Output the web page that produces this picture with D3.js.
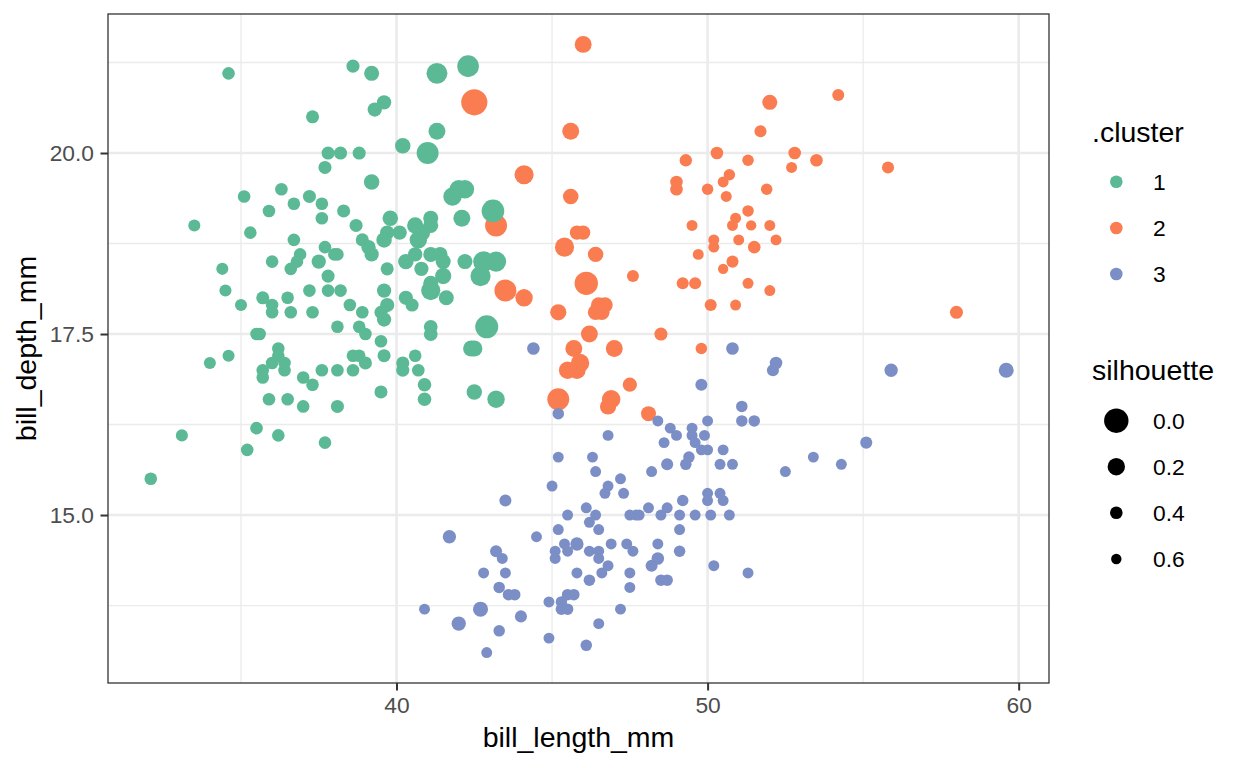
<!DOCTYPE html>
<html>
<head>
<meta charset="utf-8">
<script src="https://cdn.jsdelivr.net/npm/d3@7"></script>
<style>
  html, body { margin: 0; padding: 0; background: #ffffff; }
  svg { display: block; font-family: "Liberation Sans", Arial, Helvetica, sans-serif; }
</style>
</head>
<body>
<svg id="chart" width="1248" height="768"></svg>
<script>
// ---------------- DATA ----------------
const clusterLabels = ["1", "2", "3"];
const clusterColors = ["#5BBA95", "#FA7D52", "#7B8FC6"];
const sizeBreaks = [0.0, 0.2, 0.4, 0.6];
const xTicks = [40, 50, 60];
const xMinorTicks = [35, 45, 55];
const yTicks = [15, 17.5, 20];
const yMinorTicks = [13.75, 16.25, 18.75, 21.25];
const xTitle = "bill_length_mm";
const yTitle = "bill_depth_mm";
const colorTitle = ".cluster";
const sizeTitle = "silhouette";

// [bill_length_mm, bill_depth_mm, silhouette]
const cluster1 = [
  [34.6,21.1,0.4],[38.6,21.2,0.38],[39.2,21.1,0.3],[39.6,20.7,0.33],[39.3,20.6,0.33],
  [37.3,20.5,0.38],[40.2,20.1,0.28],[37.8,20.0,0.38],[38.2,20.0,0.38],[38.8,20.0,0.38],
  [37.7,19.8,0.38],[39.2,19.6,0.28],[36.3,19.5,0.4],[35.1,19.4,0.4],[37.2,19.4,0.38],
  [36.7,19.3,0.4],[37.6,19.3,0.4],[35.9,19.2,0.4],[38.3,19.2,0.38],[37.6,19.1,0.4],
  [39.8,19.1,0.28],[33.5,19.0,0.45],[38.7,19.0,0.38],[35.3,18.9,0.4],[40.1,18.9,0.33],
  [39.7,18.9,0.33],[36.7,18.8,0.4],[38.9,18.8,0.38],[39.6,18.8,0.28],[40.6,19.0,0.25],
  [37.7,18.7,0.4],[36.9,18.6,0.4],[38.0,18.6,0.4],[38.1,18.6,0.4],[39.1,18.7,0.33],
  [39.2,18.6,0.33],[36.0,18.5,0.4],[36.8,18.5,0.4],[37.5,18.5,0.33],[36.6,18.4,0.4],
  [34.4,18.4,0.45],[39.7,18.4,0.38],[40.3,18.5,0.28],[40.6,18.6,0.33],[37.8,18.3,0.38],
  [34.5,18.1,0.45],[37.2,18.1,0.4],[37.8,18.1,0.4],[38.2,18.1,0.4],[39.6,18.1,0.33],
  [35.0,17.9,0.45],[35.7,18.0,0.38],[36.0,17.9,0.4],[36.0,17.8,0.4],[36.5,18.0,0.4],
  [36.6,17.8,0.4],[37.3,17.8,0.4],[38.5,17.9,0.4],[38.9,17.8,0.4],[39.7,17.9,0.33],
  [39.5,17.8,0.38],[39.6,17.7,0.33],[40.3,18.0,0.33],[40.5,17.9,0.38],[38.1,17.6,0.4],
  [38.8,17.6,0.4],[39.0,17.5,0.4],[35.5,17.5,0.4],[35.6,17.5,0.4],[39.5,17.4,0.4],
  [34.0,17.1,0.45],[34.6,17.2,0.45],[36.2,17.3,0.4],[36.2,17.2,0.4],[36.0,17.1,0.4],
  [36.4,17.1,0.4],[35.7,17.0,0.4],[36.4,17.0,0.4],[35.7,16.9,0.4],[37.0,16.9,0.4],
  [37.3,16.8,0.4],[37.6,17.0,0.4],[38.1,17.0,0.4],[38.6,17.2,0.4],[38.8,17.2,0.4],
  [38.6,17.0,0.4],[39.0,17.1,0.38],[39.6,17.2,0.38],[40.2,17.1,0.38],[40.2,17.0,0.38],
  [40.6,17.2,0.4],[40.7,17.0,0.4],[39.5,16.7,0.38],[35.9,16.6,0.4],[36.5,16.6,0.4],
  [37.0,16.5,0.4],[38.1,16.5,0.38],[35.5,16.2,0.4],[36.2,16.1,0.4],[37.7,16.0,0.4],
  [33.1,16.1,0.45],[35.2,15.9,0.4],[32.1,15.5,0.4],
  [41.3,21.1,0.1],[42.3,21.2,0.08],[41.3,20.3,0.22],[41.0,20.0,0.07],[41.8,19.4,0.17],
  [42.0,19.5,0.17],[42.2,19.5,0.17],[43.1,19.2,0.05],[42.1,19.1,0.22],[41.1,19.1,0.3],
  [41.1,19.0,0.3],[40.8,18.9,0.2],[40.7,18.8,0.2],[41.1,18.6,0.3],[41.4,18.6,0.3],
  [41.5,18.5,0.3],[40.8,18.4,0.33],[41.5,18.3,0.25],[41.1,18.2,0.3],[41.1,18.1,0.15],
  [41.6,18.0,0.3],[42.2,18.5,0.3],[42.8,18.5,0.1],[43.2,18.5,0.12],[42.7,18.3,0.12],
  [41.1,17.6,0.35],[41.1,17.5,0.35],[42.9,17.6,0.04],[42.4,17.3,0.25],[42.5,17.3,0.25],
  [40.9,16.8,0.36],[40.9,16.6,0.36],[42.5,16.7,0.28],[43.2,16.6,0.2]
];
const cluster2 = [
  [42.5,20.7,-0.05],[46.0,21.5,0.22],[45.6,20.3,0.22],[44.1,19.7,0.15],[45.6,19.4,0.28],
  [49.3,19.9,0.42],[50.3,20.0,0.4],[49.0,19.6,0.4],[49.0,19.5,0.4],[50.0,19.5,0.5],
  [50.5,19.6,0.55],[50.6,19.4,0.55],[49.5,19.0,0.55],[50.2,18.8,0.55],[50.2,18.7,0.55],
  [43.2,19.0,0.07],[45.8,18.9,0.33],[46.0,18.9,0.33],[45.4,18.7,0.15],[43.5,18.1,0.07],
  [44.1,18.0,0.2],[46.4,18.6,0.28],[46.1,18.2,0.03],[47.6,18.3,0.45],[49.2,18.2,0.45],
  [49.6,18.2,0.45],[49.7,18.6,0.55],[50.5,18.4,0.6],[50.1,17.9,0.45],[46.5,17.9,0.28],
  [46.7,17.9,0.28],[46.4,17.8,0.28],[46.6,17.8,0.28],[45.2,17.8,0.25],[46.2,17.5,0.22],
  [48.5,17.5,0.38],[45.7,17.3,0.22],[47.0,17.3,0.22],[49.8,17.3,0.5],[45.9,17.1,0.17],
  [45.5,17.0,0.2],[45.8,17.0,0.2],[47.5,16.8,0.33],[45.2,16.6,0.07],[46.9,16.6,0.17],
  [46.8,16.5,0.25],[48.1,16.4,0.3],[54.2,20.8,0.45],[52.0,20.7,0.3],[51.7,20.3,0.45],
  [51.3,19.9,0.5],[52.8,20.0,0.4],[53.5,19.9,0.4],[52.7,19.8,0.55],[55.8,19.8,0.45],
  [50.7,19.7,0.5],[51.9,19.5,0.5],[51.3,19.2,0.5],[50.9,19.1,0.55],[50.8,19.0,0.55],
  [51.4,19.0,0.6],[52.0,19.0,0.55],[51.0,18.8,0.55],[51.5,18.7,0.4],[52.2,18.8,0.55],
  [50.8,18.5,0.45],[51.3,18.2,0.55],[52.0,18.1,0.55],[50.9,17.9,0.55],[58.0,17.8,0.38]
];
const cluster3 = [
  [44.4,17.3,0.4],[49.8,16.8,0.45],[45.2,16.4,0.5],[48.4,16.3,0.55],[48.8,16.2,0.55],
  [49.0,16.1,0.55],[49.5,16.2,0.55],[49.5,16.1,0.55],[50.0,16.3,0.55],[49.9,16.1,0.55],
  [46.8,16.1,0.55],[48.6,16.0,0.55],[49.6,16.0,0.55],[49.8,15.9,0.55],[50.0,15.9,0.55],
  [50.5,15.9,0.55],[49.4,15.8,0.5],[45.2,15.8,0.55],[46.3,15.8,0.55],[48.7,15.7,0.45],
  [49.3,15.7,0.5],[50.4,15.7,0.55],[50.8,15.7,0.55],[46.4,15.6,0.55],[47.2,15.5,0.55],
  [48.2,15.6,0.55],[45.0,15.4,0.55],[46.8,15.4,0.55],[46.7,15.3,0.55],[47.3,15.3,0.55],
  [43.5,15.2,0.45],[46.1,15.1,0.55],[46.4,15.0,0.55],[45.5,15.0,0.55],[47.5,15.0,0.55],
  [47.7,15.0,0.55],[47.8,15.0,0.55],[48.1,15.1,0.55],[48.7,15.1,0.55],[48.5,15.0,0.55],
  [49.1,15.0,0.55],[49.2,15.2,0.5],[49.6,15.0,0.55],[50.0,15.3,0.55],[50.0,15.2,0.55],
  [50.1,15.0,0.55],[50.4,15.3,0.55],[50.5,15.2,0.55],[50.7,15.0,0.55],[46.2,14.9,0.55],
  [45.2,14.8,0.55],[46.5,14.8,0.55],[49.1,14.8,0.55],[41.7,14.7,0.37],[44.5,14.7,0.55],
  [45.4,14.6,0.55],[45.8,14.6,0.37],[45.1,14.5,0.55],[45.5,14.5,0.55],[45.1,14.4,0.55],
  [46.2,14.5,0.55],[46.5,14.5,0.55],[46.5,14.4,0.55],[46.9,14.6,0.55],[47.4,14.6,0.55],
  [47.6,14.5,0.55],[48.4,14.6,0.55],[48.4,14.4,0.4],[48.2,14.3,0.45],[49.1,14.5,0.5],
  [50.2,14.3,0.55],[43.2,14.5,0.45],[43.4,14.4,0.55],[42.8,14.2,0.55],[43.5,14.2,0.55],
  [45.8,14.2,0.55],[46.6,14.2,0.55],[46.8,14.3,0.55],[47.5,14.2,0.55],[43.3,14.0,0.5],
  [43.6,13.9,0.5],[43.8,13.9,0.5],[46.2,14.1,0.5],[47.5,14.0,0.55],[48.5,14.1,0.5],
  [48.7,14.1,0.5],[40.9,13.7,0.55],[42.7,13.7,0.3],[44.9,13.8,0.55],[45.3,13.8,0.5],
  [45.5,13.9,0.5],[45.7,13.9,0.5],[45.3,13.7,0.5],[45.5,13.7,0.5],[47.2,13.7,0.55],
  [42.0,13.5,0.33],[44.0,13.6,0.45],[43.3,13.4,0.5],[46.5,13.5,0.55],[44.9,13.3,0.55],
  [46.1,13.2,0.5],[42.9,13.1,0.55],[52.5,15.6,0.55],[53.4,15.8,0.55],[54.3,15.7,0.55],
  [51.3,14.2,0.55],[50.8,17.3,0.4],[52.2,17.1,0.4],[52.1,17.0,0.45],[55.9,17.0,0.37],
  [59.6,17.0,0.3],[51.1,16.5,0.5],[51.1,16.3,0.5],[51.5,16.3,0.5],[55.1,16.0,0.45]
];

// ---------------- LAYOUT ----------------
const panel = { left: 108, right: 1049, top: 14, bottom: 683 };
const svg = d3.select("#chart");

const all = [
  ...cluster2.map(d => ({ x: d[0], y: d[1], s: d[2], c: 1 })),
  ...cluster3.map(d => ({ x: d[0], y: d[1], s: d[2], c: 2 })),
  ...cluster1.map(d => ({ x: d[0], y: d[1], s: d[2], c: 0 }))
];

function expand(ext) {
  const r = ext[1] - ext[0];
  return [ext[0] - 0.05 * r, ext[1] + 0.05 * r];
}
const x = d3.scaleLinear().domain(expand(d3.extent(all, d => d.x))).range([panel.left, panel.right]);
const y = d3.scaleLinear().domain(expand(d3.extent(all, d => d.y))).range([panel.bottom, panel.top]);
const color = d3.scaleOrdinal().domain([0, 1, 2]).range(clusterColors);
const radius = d3.scaleLinear().domain([0, 0.2, 0.4, 0.6]).range([12.2, 8.7, 6.3, 5.2]);

// panel background
svg.append("rect")
  .attr("x", panel.left).attr("y", panel.top)
  .attr("width", panel.right - panel.left).attr("height", panel.bottom - panel.top)
  .attr("fill", "#ffffff");

const grid = svg.append("g");
grid.selectAll(".xminor").data(xMinorTicks).join("line")
  .attr("x1", d => x(d)).attr("x2", d => x(d))
  .attr("y1", panel.top).attr("y2", panel.bottom)
  .attr("stroke", "#EBEBEB").attr("stroke-width", 1.3);
grid.selectAll(".yminor").data(yMinorTicks).join("line")
  .attr("y1", d => y(d)).attr("y2", d => y(d))
  .attr("x1", panel.left).attr("x2", panel.right)
  .attr("stroke", "#EBEBEB").attr("stroke-width", 1.3);
grid.selectAll(".xmajor").data(xTicks).join("line")
  .attr("x1", d => x(d)).attr("x2", d => x(d))
  .attr("y1", panel.top).attr("y2", panel.bottom)
  .attr("stroke", "#EBEBEB").attr("stroke-width", 2.6);
grid.selectAll(".ymajor").data(yTicks).join("line")
  .attr("y1", d => y(d)).attr("y2", d => y(d))
  .attr("x1", panel.left).attr("x2", panel.right)
  .attr("stroke", "#EBEBEB").attr("stroke-width", 2.6);

// points
svg.append("g").selectAll("circle").data(all).join("circle")
  .attr("cx", d => x(d.x))
  .attr("cy", d => y(d.y))
  .attr("r", d => radius(d.s))
  .attr("fill", d => color(d.c));

// panel border
svg.append("rect")
  .attr("x", panel.left).attr("y", panel.top)
  .attr("width", panel.right - panel.left).attr("height", panel.bottom - panel.top)
  .attr("fill", "none").attr("stroke", "#333333").attr("stroke-width", 1.3);

// axes
const fmtY = d3.format(".1f");
const xAxis = svg.append("g").attr("transform", `translate(0,${panel.bottom})`)
  .call(d3.axisBottom(x).tickValues(xTicks).tickSize(7.5).tickPadding(6.5).tickSizeOuter(0));
const yAxis = svg.append("g").attr("transform", `translate(${panel.left},0)`)
  .call(d3.axisLeft(y).tickValues(yTicks).tickFormat(fmtY).tickSize(7.5).tickPadding(6.5).tickSizeOuter(0));
[xAxis, yAxis].forEach(g => {
  g.select(".domain").remove();
  g.selectAll(".tick line").attr("stroke", "#333333").attr("stroke-width", 2);
  g.selectAll(".tick text")
    .attr("fill", "#4D4D4D")
    .style("font-size", "22.8px")
    .style("font-family", '"Liberation Sans", Arial, Helvetica, sans-serif');
});

// axis titles
svg.append("text")
  .attr("x", (panel.left + panel.right) / 2).attr("y", 747)
  .attr("text-anchor", "middle")
  .attr("fill", "#000").style("font-size", "28.5px")
  .text(xTitle);
svg.append("text")
  .attr("transform", `translate(36,${(panel.top + panel.bottom) / 2}) rotate(-90)`)
  .attr("text-anchor", "middle")
  .attr("fill", "#000").style("font-size", "28.5px")
  .text(yTitle);

// legends
const legX = 1092, keyX = 1116.3, labX = 1153;
svg.append("text").attr("x", legX).attr("y", 142)
  .attr("fill", "#000").style("font-size", "28.5px").text(colorTitle);
const cKeys = [181.7, 228, 274];
clusterLabels.forEach((lab, i) => {
  svg.append("circle").attr("cx", keyX).attr("cy", cKeys[i]).attr("r", 6.3).attr("fill", color(i));
  svg.append("text").attr("x", labX).attr("y", cKeys[i] + 8.2)
    .attr("fill", "#000").style("font-size", "22.8px").text(lab);
});

svg.append("text").attr("x", legX).attr("y", 380)
  .attr("fill", "#000").style("font-size", "28.5px").text(sizeTitle);
const sKeys = [420.7, 466.7, 512.7, 559];
sizeBreaks.forEach((b, i) => {
  svg.append("circle").attr("cx", keyX).attr("cy", sKeys[i]).attr("r", radius(b)).attr("fill", "#000");
  svg.append("text").attr("x", labX).attr("y", sKeys[i] + 8.2)
    .attr("fill", "#000").style("font-size", "22.8px").text(fmtY(b));
});
</script>
</body>
</html>
